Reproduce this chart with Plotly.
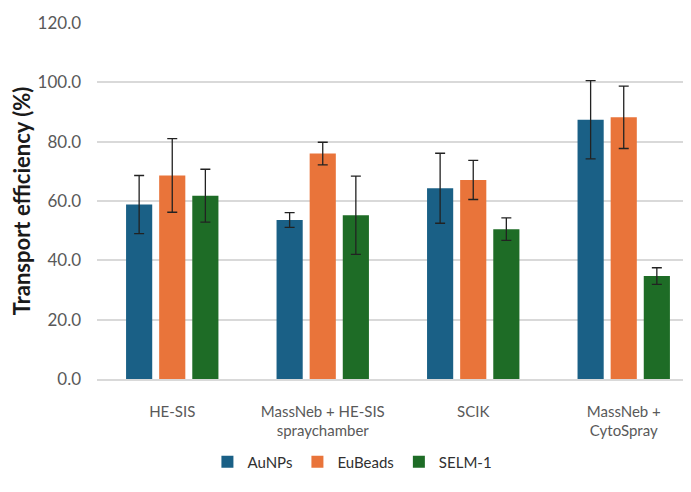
import plotly.graph_objects as go

categories = ["HE-SIS", "MassNeb + HE-SIS<br>spraychamber", "SCIK", "MassNeb +<br>CytoSpray"]
series_names = ["AuNPs", "EuBeads", "SELM-1"]
aunps = [58.8, 53.6, 64.3, 87.4]
aunps_err = [9.8, 2.5, 11.8, 13.2]
eubeads = [68.6, 76.0, 67.1, 88.2]
eubeads_err = [12.4, 3.8, 6.6, 10.5]
selm = [61.8, 55.2, 50.5, 34.7]
selm_err = [8.9, 13.2, 3.8, 2.8]
colors = ["#1a6086", "#e9743a", "#1e6c26"]
y_ticks = [0, 20, 40, 60, 80, 100, 120]

fig = go.Figure()
for name, vals, errs, col in zip(series_names, [aunps, eubeads, selm],
                                 [aunps_err, eubeads_err, selm_err], colors):
    fig.add_trace(go.Bar(
        x=categories, y=vals, name=name, marker_color=col,
        marker_line_width=0,
        error_y=dict(type="data", array=errs, visible=True,
                     color="#222222", thickness=1.3, width=5),
    ))

# The page body has an 8px default margin, so the figure is offset by 8px;
# size and margins are compensated for that.
fig.update_layout(
    width=683, height=484,
    paper_bgcolor="white", plot_bgcolor="white",
    margin=dict(l=89, r=0, t=15, b=113),
    barmode="group", bargap=0.34, bargroupgap=0.21,
    font=dict(family="Lato, Open Sans, sans-serif", color="#595959", size=16),
    legend=dict(orientation="h", x=0.43, xanchor="center", y=-0.233, yanchor="middle",
                font=dict(size=15, color="#303030"),
                traceorder="normal", itemwidth=30),
    xaxis=dict(range=[-0.5, 3.447], showgrid=False, showline=True,
               linecolor="#d9d9d9", linewidth=1.5, ticks="",
               ticklabelstandoff=18, automargin=False,
               tickfont=dict(size=15, color="#595959")),
    yaxis=dict(range=[0, 120], tickvals=y_ticks,
               ticktext=[f"{v:.1f}" for v in y_ticks],
               showgrid=True, gridcolor="#d9d9d9", gridwidth=1.5,
               zeroline=False, ticks="", ticklabelstandoff=15, automargin=False,
               title=dict(text="<b>Transport efficiency (%)</b>",
                          font=dict(size=22, color="#1a1a1a"), standoff=7),
               tickfont=dict(size=17, color="#595959")),
)

fig.write_html("out.html")
